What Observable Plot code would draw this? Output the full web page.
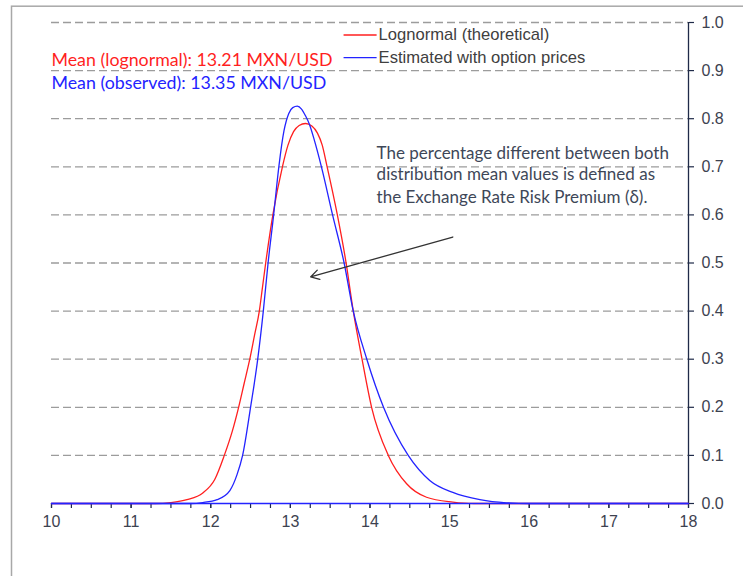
<!DOCTYPE html>
<html>
<head>
<meta charset="utf-8">
<script src="https://cdn.jsdelivr.net/npm/d3@7"></script>
<script src="https://cdn.jsdelivr.net/npm/@observablehq/plot@0.6"></script>
<style>
  html, body { margin: 0; padding: 0; background: #fff; overflow: hidden; }
  #chart svg { display: block; }
</style>
</head>
<body>
<div id="chart"></div>
<script>
// ---- Data ----
const lognormalX = [10, 11.3, 11.5, 11.7, 11.9, 12.05, 12.17, 12.27, 12.35, 12.42, 12.49, 12.55, 12.61, 12.65, 12.69, 12.78, 12.90, 12.97, 13.04, 13.11, 13.19, 13.27, 13.34, 13.40, 13.455, 13.59, 13.70, 13.79, 13.90, 14.02, 14.23, 14.46, 14.71, 15.04, 15.3, 18];
const lognormalY = [0, 0, 0.002, 0.008, 0.022, 0.05, 0.1, 0.15, 0.2, 0.25, 0.3, 0.35, 0.4, 0.45, 0.5, 0.6, 0.7, 0.745, 0.773, 0.786, 0.79, 0.785, 0.77, 0.745, 0.705, 0.6, 0.5, 0.4, 0.3, 0.2, 0.1, 0.041, 0.013, 0.003, 0, 0];

const observedX = [10, 11.75, 11.9, 12.08, 12.24, 12.33, 12.40, 12.50, 12.59, 12.66, 12.72, 12.79, 12.855, 12.92, 12.98, 13.03, 13.087, 13.14, 13.19, 13.24, 13.30, 13.39, 13.53, 13.675, 13.79, 13.96, 14.17, 14.48, 14.75, 15.04, 15.38, 15.71, 16.0, 18];
const observedY = [0, 0, 0.002, 0.008, 0.027, 0.06, 0.1, 0.2, 0.3, 0.4, 0.5, 0.6, 0.7, 0.775, 0.811, 0.823, 0.826, 0.82, 0.806, 0.788, 0.756, 0.7, 0.6, 0.5, 0.4, 0.3, 0.2, 0.1, 0.048, 0.023, 0.008, 0.0015, 0, 0];

const xMajorTicks = [10, 11, 12, 13, 14, 15, 16, 17, 18];
const xMinorTicks = d3.range(10, 18.001, 0.25);
const yTicks = [0, 0.1, 0.2, 0.3, 0.4, 0.5, 0.6, 0.7, 0.8, 0.9, 1.0];
const gridValues = [0.1, 0.2, 0.3, 0.4, 0.5, 0.6, 0.7, 0.8, 0.9, 1.0];

const seriesNames = ["Lognormal (theoretical)", "Estimated with option prices"];
const meanLabels = ["Mean (lognormal): 13.21 MXN/USD", "Mean (observed): 13.35 MXN/USD"];
const annotationLines = [
  "The percentage different between both",
  "distribution mean values is defined as",
  "the Exchange Rate Risk Premium (\u03B4)."
];

// annotation anchors, in data units
const legendAt = {x1: 13.668, x2: 14.083, ys: [0.974, 0.927]};
const meanAt = {x: 10, ys: [0.909, 0.861]};
const noteAt = {x: 14.083, ys: [0.717, 0.672, 0.625]};
const arrowAt = {x1: 15.04, y1: 0.554, x2: 13.254, y2: 0.471};

// ---- Build tables ----
const lognormal = lognormalX.map((x, i) => ({x, y: lognormalY[i]}));
const observed = observedX.map((x, i) => ({x, y: observedY[i]}));

const RED = "#ff1f1f";
const BLUE = "#2323ff";
const AXIS = "#1f2a48";
const TICKTEXT = "#3d4250";

const legendRows = seriesNames.map((name, i) => ({name, y: legendAt.ys[i], color: [RED, BLUE][i]}));
const meanRows = meanLabels.map((t, i) => ({t, y: meanAt.ys[i], color: [RED, BLUE][i]}));
const noteRows = annotationLines.map((t, i) => ({t, y: noteAt.ys[i]}));

const chart = Plot.plot({
  width: 743,
  height: 576,
  marginLeft: 51,
  marginRight: 55,
  marginTop: 22,
  marginBottom: 73,
  style: {fontFamily: "Liberation Sans, Arial, sans-serif", background: "#fff", overflow: "hidden"},
  x: {domain: [10, 18], axis: null},
  y: {domain: [0, 1], axis: null},
  marks: [
    Plot.frame({stroke: "#a8a8a8", strokeWidth: 1.5, insetLeft: -40, insetTop: -16.3, insetRight: -80, insetBottom: -100}),
    Plot.ruleY(gridValues, {stroke: "#9c9c9c", strokeWidth: 1.3, strokeDasharray: "8,4"}),
    Plot.axisX(xMinorTicks, {tickSize: 5, text: null, stroke: AXIS, strokeWidth: 1.2, label: null}),
    Plot.axisX(xMajorTicks, {tickSize: 5, tickPadding: 7, stroke: AXIS, strokeWidth: 1.2, fill: TICKTEXT, fontSize: 16, tickFormat: d => String(d), label: null}),
    Plot.axisY(yTicks, {anchor: "right", tickSize: 5, tickPadding: 8, stroke: AXIS, strokeWidth: 1.2, fill: TICKTEXT, fontSize: 16, tickFormat: d3.format(".1f"), label: null}),
    Plot.ruleX([18], {y1: 0, y2: 1, stroke: AXIS, strokeWidth: 1.3}),
    Plot.line(lognormal, {x: "x", y: "y", stroke: RED, strokeWidth: 1.3, curve: "monotone-x"}),
    Plot.line(observed, {x: "x", y: "y", stroke: BLUE, strokeWidth: 1.3, curve: "monotone-x"}),
    Plot.ruleY([0], {x1: 10, x2: 18, stroke: BLUE, strokeWidth: 1.3}),
    // legend
    Plot.link(legendRows, {x1: legendAt.x1, x2: legendAt.x2, y1: "y", y2: "y", stroke: "color", strokeWidth: 1.3}),
    Plot.text(legendRows, {x: legendAt.x2, y: "y", text: "name", textAnchor: "start", dx: 2, lineAnchor: "middle", fontSize: 16.6, fill: "#404040"}),
    // means
    Plot.text(meanRows, {x: meanAt.x, y: "y", text: "t", textAnchor: "start", lineAnchor: "bottom", fontSize: 17.8, fill: "color", fontFamily: "Lato, Open Sans, sans-serif"}),
    // annotation
    Plot.text(noteRows, {x: noteAt.x, y: "y", text: "t", textAnchor: "start", lineAnchor: "bottom", fontSize: 17, fill: "#3e4758", fontFamily: "Lato, Open Sans, sans-serif"}),
    Plot.arrow([arrowAt], {x1: "x1", y1: "y1", x2: "x2", y2: "y2", stroke: "#333", strokeWidth: 1.3, headLength: 11})
  ]
});
document.getElementById("chart").appendChild(chart);
</script>
</body>
</html>
